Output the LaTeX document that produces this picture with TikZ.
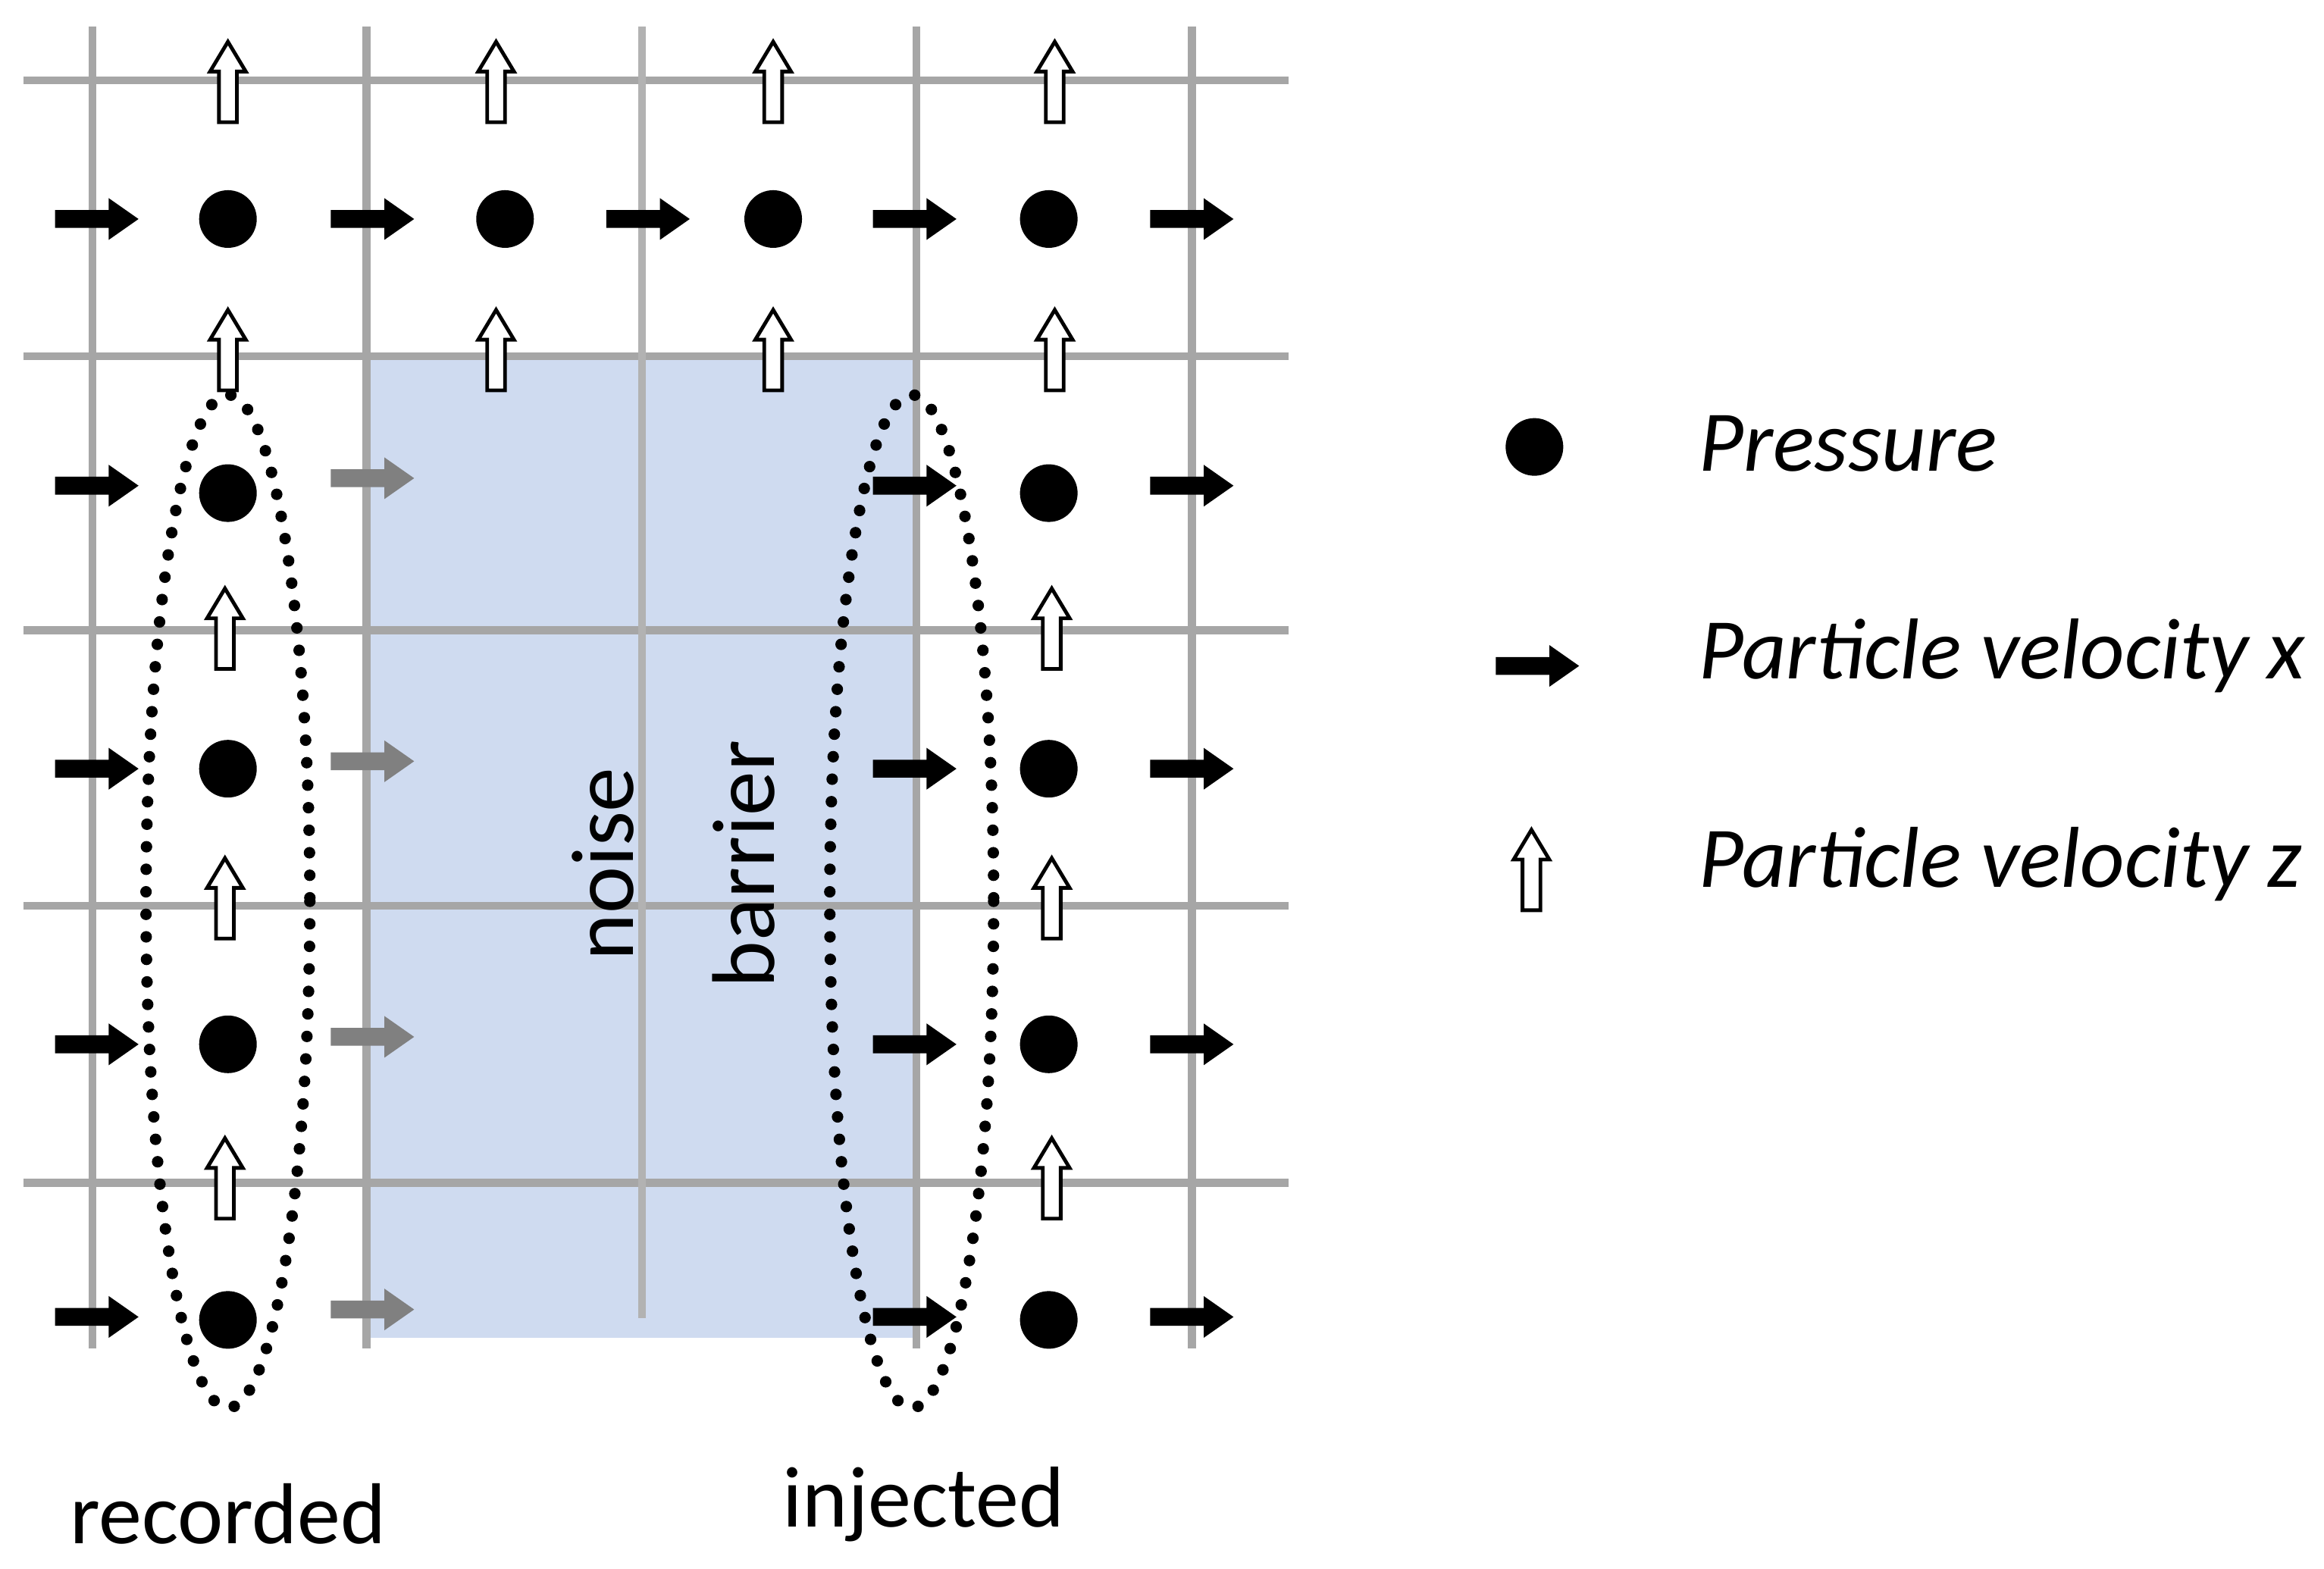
\documentclass[tikz,border=0pt]{standalone}
\usepackage{fontspec}
\setmainfont{Carlito}
\usetikzlibrary{arrows.meta}
\definecolor{barrier}{HTML}{CFDBF0}
\begin{document}
\begin{tikzpicture}[x=0.01cm,y=-0.01cm,
 gridline/.style={draw=gray!70,line width=1.5pt},
 pdot/.style={circle,fill=black,minimum size=11pt,inner sep=0},
 lbl/.style={font=\fontsize{16.5}{19}\selectfont},
 leg/.style={anchor=west,font=\fontsize{16.5}{19}\selectfont\itshape},
 ell/.style={line width=2.2pt,line cap=round,dash pattern=on 0pt off 4.3pt},
 pics/vx/.style={code={\fill[#1] (-28,-6)--(8,-6)--(8,-14)--(28,0)--(8,14)--(8,6)--(-28,6)--cycle;}},
 pics/vz/.style={code={\filldraw[fill=white,draw=black,line width=0.7pt] (-6,26)--(-6,-8)--(-12,-8)--(0,-28)--(12,-8)--(6,-8)--(6,26)--cycle;}}]
\useasboundingbox (0,0) rectangle (1560,1053);
\fill[barrier] (246,239) rectangle (615,898);
\foreach \y in {54,239,423,608,794} \draw[gridline] (16,\y)--(865,\y);
\foreach \x in {62,246,615,800} \draw[gridline] (\x,18)--(\x,905);
\draw[gridline,draw=gray!60] (431,18)--(431,885);
\foreach[count=\i] \x in {153,339,519,704} \node[pdot] (t\i) at (\x,147) {};
\foreach \y [count=\j] in {331,516,701,886} {\node[pdot] (l\j) at (153,\y) {}; \node[pdot] (r\j) at (704,\y) {};}
\foreach \x in {65,250,435,614,800} \pic at (\x,147) {vx=black};
\foreach \y in {326,516,701,884} {\pic at (65,\y) {vx=black}; \pic at (250,\y-5) {vx=gray}; \pic at (614,\y) {vx=black}; \pic at (800,\y) {vx=black};}
\foreach \x in {153,333,519,708} {\pic at (\x,56) {vz}; \pic at (\x,236) {vz};}
\foreach \y in {423,604,792} {\pic at (151,\y) {vz}; \pic at (706,\y) {vz};}
\draw[ell] (153,605) ellipse [x radius=55,y radius=340];
\draw[ell] (612,605) ellipse [x radius=55,y radius=340];
\node[lbl,rotate=90,align=center,font=\fontsize{17}{27}\selectfont] (nb) at (452,580) {noise\\barrier};
\node[lbl] (rec) at (153,1016) {recorded};
\node[lbl] (inj) at (620,1010) {injected};
\node[pdot] (lp) at (1030,300) {};
\pic at (1032,447) {vx=black};
\pic at (1028,585) {vz};
\node[leg] at (1128,298) {Pressure};
\node[leg] at (1128,440) {Particle velocity x};
\node[leg] at (1128,580) {Particle velocity z};
\end{tikzpicture}
\end{document}
